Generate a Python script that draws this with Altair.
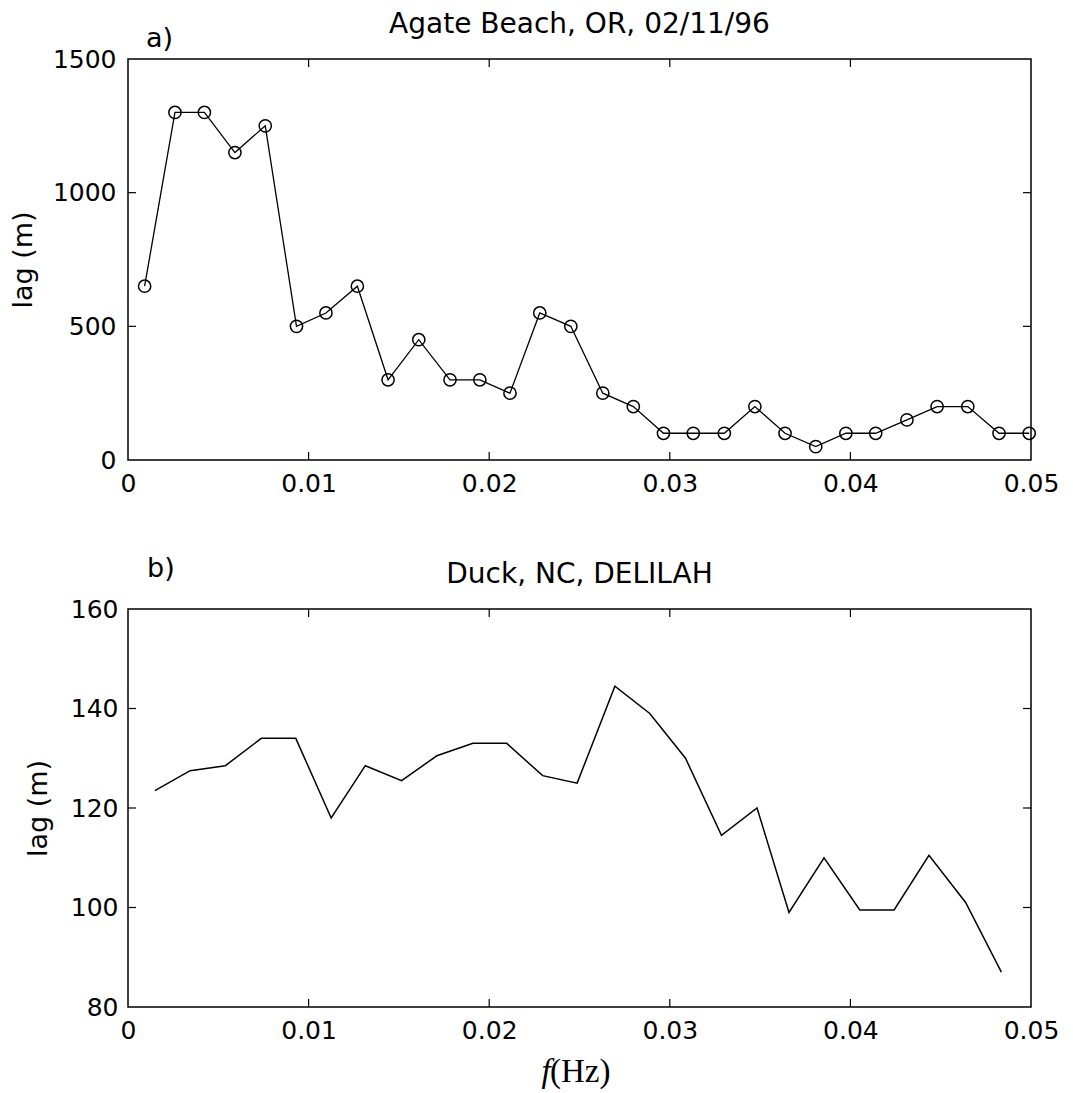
import altair as alt
import pandas as pd

# Panel a) Agate Beach, OR, 02/11/96
agate_f = [0.00092, 0.0026, 0.00423, 0.00592, 0.0076, 0.00933, 0.01096, 0.0127, 0.0144, 0.0161,
           0.01783, 0.01948, 0.02115, 0.0228, 0.02452, 0.02629, 0.02798, 0.02965, 0.0313, 0.03302,
           0.03471, 0.03638, 0.03808, 0.03975, 0.0414, 0.04313, 0.0448, 0.0465, 0.04823, 0.0499]
agate_lag = [650, 1300, 1300, 1150, 1250, 500, 550, 650, 300, 450,
             300, 300, 250, 550, 500, 250, 200, 100, 100, 100,
             200, 100, 50, 100, 100, 150, 200, 200, 100, 100]

# Panel b) Duck, NC, DELILAH
duck_f = [0.00149, 0.00344, 0.00539, 0.00738, 0.00929, 0.01125, 0.01314, 0.01515, 0.0171, 0.0191,
          0.02097, 0.02296, 0.02487, 0.02696, 0.02889, 0.03087, 0.03286, 0.03483, 0.0366, 0.03854,
          0.04052, 0.04242, 0.04435, 0.04638, 0.04836]
duck_lag = [123.5, 127.5, 128.5, 134, 134, 118, 128.5, 125.5, 130.5, 133,
            133, 126.5, 125, 144.5, 139, 130, 114.5, 120, 99, 110,
            99.5, 99.5, 110.5, 101, 87]

x_ticks = [0, 0.01, 0.02, 0.03, 0.04, 0.05]
x_inner = [0.01, 0.02, 0.03, 0.04]
agate_ticks = [0, 500, 1000, 1500]
agate_inner = [500, 1000]
duck_ticks = [80, 100, 120, 140, 160]
duck_inner = [100, 120, 140]

SANS = "DejaVu Sans"
W = 903
H_TOP = 401
H_BOT = 398
TICK = 8

x_scale = alt.Scale(domain=[0, 0.05], nice=False, zero=False)


def x_axis():
    return alt.Axis(values=x_ticks, format=".2~f", ticks=False, tickSize=0, domain=False,
                    grid=False, labelFont=SANS, labelFontSize=25, labelColor="black",
                    labelPadding=11, labelFlush=False, labelOverlap=False, title=None)


def y_axis(values, title_x, pad):
    return alt.Axis(values=values, format="d", ticks=False, tickSize=0, domain=False,
                    grid=False, labelFont=SANS, labelFontSize=25, labelColor="black",
                    labelPadding=pad, labelOverlap=False, title="lag (m)", titleFont=SANS,
                    titleFontSize=27, titleFontWeight="normal", titleColor="black",
                    titleX=title_x, titleBaseline="alphabetic")


def inner_ticks(xvals, yvals, y_scale, height):
    """Inward-pointing tick marks on all four sides of the box."""
    dx = pd.DataFrame({"v": xvals})
    dy = pd.DataFrame({"v": yvals})
    bottom = alt.Chart(dx).mark_rule(color="black", strokeWidth=1.2).encode(
        x=alt.X("v:Q", scale=x_scale), y=alt.value(height - TICK), y2=alt.value(height))
    top = alt.Chart(dx).mark_rule(color="black", strokeWidth=1.2).encode(
        x=alt.X("v:Q", scale=x_scale), y=alt.value(0), y2=alt.value(TICK))
    left = alt.Chart(dy).mark_rule(color="black", strokeWidth=1.2).encode(
        y=alt.Y("v:Q", scale=y_scale), x=alt.value(0), x2=alt.value(TICK))
    right = alt.Chart(dy).mark_rule(color="black", strokeWidth=1.2).encode(
        y=alt.Y("v:Q", scale=y_scale), x=alt.value(W - TICK), x2=alt.value(W))
    return [bottom, top, left, right]


def label(text, x, y, size=27, align="left", font=SANS, style="normal"):
    return alt.Chart(pd.DataFrame({"t": [text]})).mark_text(
        font=font, fontSize=size, fontStyle=style, align=align,
        baseline="alphabetic", color="black"
    ).encode(text="t:N", x=alt.value(x), y=alt.value(y))


# ---- top panel ----
agate = pd.DataFrame({"f": agate_f, "lag": agate_lag})
agate_y = alt.Scale(domain=[0, 1500], nice=False, zero=False)
a_base = alt.Chart(agate).encode(
    x=alt.X("f:Q", scale=x_scale, axis=x_axis()),
    y=alt.Y("lag:Q", scale=agate_y, axis=y_axis(agate_ticks, -97, 12)),
)
a_line = a_base.mark_line(color="black", strokeWidth=1.3)
a_pts = a_base.mark_point(shape="circle", filled=False, color="black", size=150,
                          strokeWidth=1.5, opacity=1)
top = alt.layer(
    a_line, a_pts, *inner_ticks(x_inner, agate_inner, agate_y, H_TOP),
    label("a)", 18, -12),
    label("Agate Beach, OR, 02/11/96", W / 2, -26, size=28, align="center"),
).properties(width=W, height=H_TOP)

# ---- bottom panel ----
duck = pd.DataFrame({"f": duck_f, "lag": duck_lag})
duck_y = alt.Scale(domain=[80, 160], nice=False, zero=False)
b_line = alt.Chart(duck).mark_line(color="black", strokeWidth=1.5).encode(
    x=alt.X("f:Q", scale=x_scale, axis=x_axis()),
    y=alt.Y("lag:Q", scale=duck_y, axis=y_axis(duck_ticks, -82, 10)),
)

bottom = alt.layer(
    b_line, *inner_ticks(x_inner, duck_inner, duck_y, H_BOT),
    label("b)", 19, -32),
    label("Duck, NC, DELILAH", W / 2, -26, size=28, align="center"),
    label("f", 418, H_BOT + 75, size=33, align="center",
          font="Liberation Serif", style="italic"),
    label("(Hz)", 422, H_BOT + 75, size=33, font="Liberation Serif"),
).properties(width=W, height=H_BOT)

chart = alt.vconcat(top, bottom, spacing=149, bounds="flush").properties(
    padding={"left": 8, "top": 10, "right": 5, "bottom": 2},
    background="white",
).configure_view(stroke="black", strokeWidth=1.5)

chart.save("out.html", embed_options={"renderer": "svg", "actions": False})
